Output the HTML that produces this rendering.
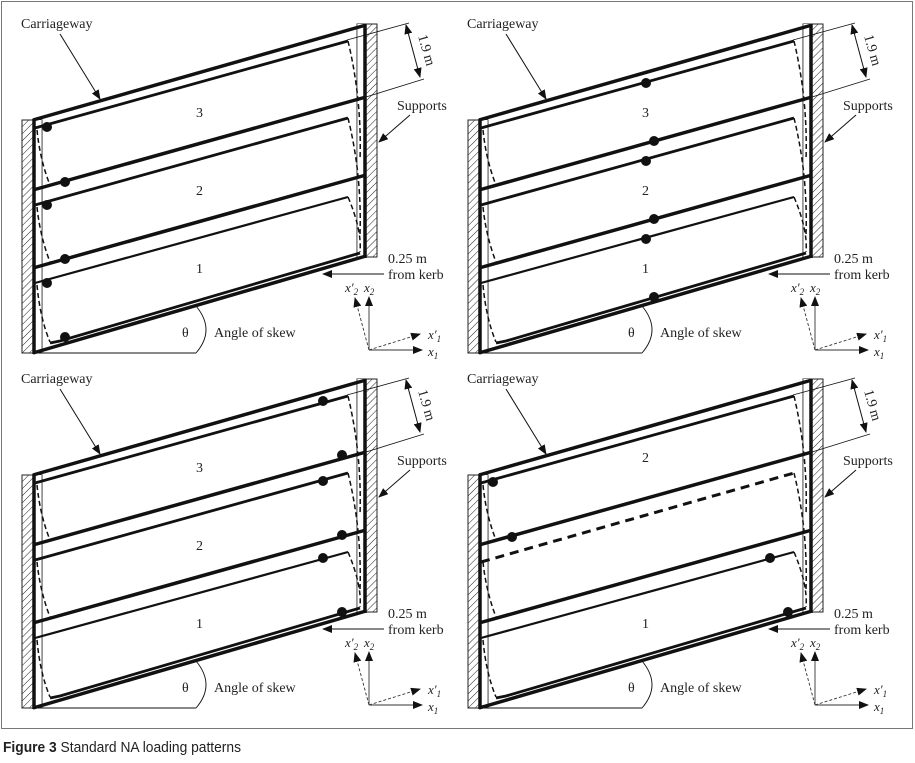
<!DOCTYPE html>
<html><head><meta charset="utf-8"><style>
html,body{margin:0;padding:0;background:#fff;width:915px;height:763px;overflow:hidden}
svg{display:block}
.t{font-family:"Liberation Serif",serif;font-size:14px;fill:#222}
.i{font-family:"Liberation Serif",serif;font-style:italic;font-size:13px;fill:#222}
</style></head><body>
<svg width="915" height="763" viewBox="0 0 915 763" xmlns="http://www.w3.org/2000/svg">
<defs>
<pattern id="h" width="5" height="5" patternUnits="userSpaceOnUse" patternTransform="rotate(45)">
<line x1="0" y1="0" x2="0" y2="5" stroke="#222" stroke-width="1"/>
</pattern>
<marker id="a" markerWidth="10" markerHeight="8" refX="9" refY="4" orient="auto" markerUnits="userSpaceOnUse">
<path d="M0,0 L10,4 L0,8 z" fill="#111"/></marker>
<marker id="as" markerWidth="10" markerHeight="8" refX="1" refY="4" orient="auto" markerUnits="userSpaceOnUse">
<path d="M10,0 L0,4 L10,8 z" fill="#111"/></marker>
<g id="base">
<rect x="22" y="120" width="20" height="233" fill="url(#h)" stroke="#222" stroke-width="1"/>
<rect x="357" y="24" width="20" height="233" fill="url(#h)" stroke="#222" stroke-width="1"/>
<rect x="35" y="120" width="7" height="233" fill="#fff"/>
<rect x="357" y="24" width="7" height="233" fill="#fff"/>
<line x1="42" y1="120" x2="42" y2="353" stroke="#333" stroke-width="0.8"/>
<line x1="357" y1="24" x2="357" y2="257" stroke="#333" stroke-width="0.8"/>
<line x1="34" y1="119" x2="34" y2="354" stroke="#111" stroke-width="3.5"/>
<line x1="365" y1="24" x2="365" y2="258" stroke="#111" stroke-width="3.5"/>
<g stroke="#111" stroke-width="3.5" fill="none">
<line x1="33" y1="120" x2="366" y2="25"/>
<line x1="33" y1="353" x2="366" y2="256"/>
<line x1="33" y1="190" x2="366" y2="97"/>
<line x1="33" y1="268" x2="366" y2="175"/>
</g>
<g stroke="#111" stroke-width="2.8" fill="none">
<polyline points="35,128 348,41"/>
<polyline points="35,283 348,197" stroke-width="2.2"/>
<polyline points="50,343 60,341 360,253"/>
</g>
<g stroke="#111" stroke-width="1.5" fill="none" stroke-dasharray="5,3">
<path d="M348,41 Q362,100 360,160"/>
<path d="M348,118 Q362,175 360,235"/>
<path d="M348,197 Q362,230 360,252"/>
<path d="M37,130 Q40,160 50,185"/>
<path d="M37,207 Q40,236 50,262"/>
<path d="M37,285 Q40,318 50,342"/>
</g>
<text class="t" x="21" y="28" font-size="13">Carriageway</text>
<line x1="60" y1="34" x2="100" y2="99" stroke="#111" stroke-width="1" marker-end="url(#a)"/>
<line x1="347" y1="40" x2="409" y2="23" stroke="#111" stroke-width="0.8"/>
<line x1="366" y1="97" x2="424" y2="79" stroke="#111" stroke-width="0.8"/>
<line x1="406" y1="25" x2="420" y2="77" stroke="#111" stroke-width="1" marker-end="url(#a)" marker-start="url(#as)"/>
<text class="t" x="0" y="0" font-size="13" transform="translate(418,36) rotate(74)">1.9 m</text>
<text class="t" x="397" y="110">Supports</text>
<line x1="410" y1="115" x2="379" y2="142" stroke="#111" stroke-width="1" marker-end="url(#a)"/>
<text class="t" x="388" y="263">0.25 m</text>
<text class="t" x="388" y="279">from kerb</text>
<line x1="384" y1="274" x2="323" y2="274" stroke="#111" stroke-width="1" marker-end="url(#a)"/>
<line x1="33" y1="353" x2="196" y2="353" stroke="#111" stroke-width="0.9"/>
<path d="M196,306 Q216,330 196,353" stroke="#111" stroke-width="0.9" fill="none"/>
<text class="t" x="182" y="337">θ</text>
<text class="t" x="214" y="337">Angle of skew</text>
<line x1="369" y1="350" x2="369" y2="297" stroke="#333" stroke-width="0.9" marker-end="url(#a)"/>
<line x1="369" y1="350" x2="422" y2="350" stroke="#333" stroke-width="0.9" marker-end="url(#a)"/>
<line x1="369" y1="350" x2="355" y2="298" stroke="#333" stroke-width="0.9" stroke-dasharray="3,2" marker-end="url(#a)"/>
<line x1="369" y1="350" x2="420" y2="334" stroke="#333" stroke-width="0.9" stroke-dasharray="3,2" marker-end="url(#a)"/>
<text class="i" x="345" y="292">x′<tspan font-size="9" dy="3">2</tspan></text>
<text class="i" x="364" y="292">x<tspan font-size="9" dy="3">2</tspan></text>
<text class="i" x="428" y="339">x′<tspan font-size="9" dy="3">1</tspan></text>
<text class="i" x="428" y="356">x<tspan font-size="9" dy="3">1</tspan></text>
</g>
<g id="tl">
<line x1="35" y1="205" x2="348" y2="118" stroke="#111" stroke-width="2.8"/>
<text class="t" x="196" y="117">3</text>
<text class="t" x="196" y="195">2</text>
<text class="t" x="196" y="273">1</text>
</g>
</defs>
<rect x="1.5" y="1.5" width="911" height="727" fill="none" stroke="#777" stroke-width="1"/>

<g>
<use href="#base"/><use href="#tl"/>
<g fill="#111"><circle cx="47" cy="127" r="5"/><circle cx="65" cy="182" r="5"/><circle cx="47" cy="205" r="5"/><circle cx="65" cy="259" r="5"/><circle cx="47" cy="283" r="5"/><circle cx="65" cy="337" r="5"/></g>
</g>
<g transform="translate(446,0)">
<use href="#base"/><use href="#tl"/>
<g fill="#111"><circle cx="200" cy="83" r="5"/><circle cx="208" cy="141" r="5"/><circle cx="200" cy="161" r="5"/><circle cx="208" cy="219" r="5"/><circle cx="200" cy="239" r="5"/><circle cx="208" cy="297" r="5"/></g>
</g>
<g transform="translate(0,355)">
<use href="#base"/><use href="#tl"/>
<g fill="#111"><circle cx="323" cy="46" r="5"/><circle cx="342" cy="100" r="5"/><circle cx="323" cy="126" r="5"/><circle cx="342" cy="180" r="5"/><circle cx="323" cy="203" r="5"/><circle cx="342" cy="257" r="5"/></g>
</g>
<g transform="translate(446,355)">
<use href="#base"/>
<line x1="35" y1="207" x2="348" y2="118" stroke="#111" stroke-width="3" stroke-dasharray="9,6"/>
<text class="t" x="196" y="107">2</text>
<text class="t" x="196" y="273">1</text>
<g fill="#111"><circle cx="47" cy="127" r="5"/><circle cx="66" cy="182" r="5"/><circle cx="324" cy="203" r="5"/><circle cx="342" cy="257" r="5"/></g>
</g>

<text x="3" y="752" font-family="'Liberation Sans',sans-serif" font-size="15" fill="#222" textLength="238" lengthAdjust="spacingAndGlyphs"><tspan font-weight="bold">Figure 3</tspan> Standard NA loading patterns</text>
</svg>
</body></html>
